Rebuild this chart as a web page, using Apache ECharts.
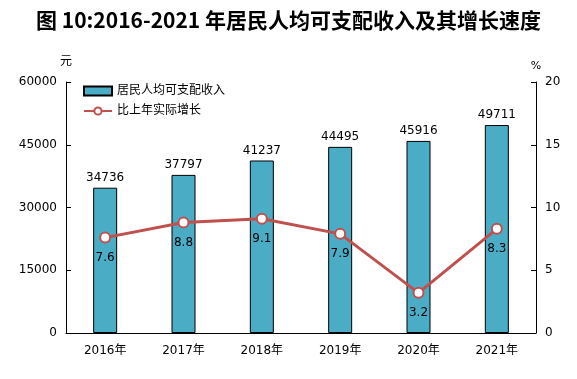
<!DOCTYPE html>
<html><head><meta charset="utf-8">
<script src="https://cdn.jsdelivr.net/npm/echarts@6/dist/echarts.min.js"></script>
<style>html,body{margin:0;padding:0;background:#fff}#c{width:577px;height:379px}</style>
</head><body><div id="c"></div>
<script>
const categories = ['2016年','2017年','2018年','2019年','2020年','2021年'];
const incomeValues = [34736, 37797, 41237, 44495, 45916, 49711];
const growthValues = [7.6, 8.8, 9.1, 7.9, 3.2, 8.3];
const leftTicks = [0, 15000, 30000, 45000, 60000];
const rightTicks = [0, 5, 10, 15, 20];

const font = 'Tahoma, "DejaVu Sans", "Noto Sans CJK SC", sans-serif';
const chart = echarts.init(document.getElementById('c'));
chart.setOption({
  animation: false,
  backgroundColor: '#fff',
  title: {
    text: '图 10:2016-2021 年居民人均可支配收入及其增长速度',
    left: 'center', top: 5,
    textStyle: {fontFamily: '"Noto Sans CJK SC", serif', fontSize: 21, fontWeight: 'bold', color: '#000'}
  },
  legend: {
    left: 78, top: 80, orient: 'vertical', itemGap: 8,
    itemWidth: 28, itemHeight: 9,
    textStyle: {fontFamily: font, fontSize: 12, color: '#000'},
    data: [
      {name: '居民人均可支配收入', icon: 'rect'},
      {name: '比上年实际增长'}
    ]
  },
  grid: {left: 66, right: 41, top: 82, bottom: 46},
  xAxis: {
    type: 'category', data: categories,
    axisLine: {lineStyle: {color: '#000', width: 1}},
    axisTick: {inside: true, length: 5, lineStyle: {color: '#000'}},
    axisLabel: {fontFamily: font, fontSize: 12, color: '#000', margin: 12}
  },
  yAxis: [
    {
      type: 'value', min: leftTicks[0], max: leftTicks[leftTicks.length-1], interval: 15000,
      name: '元', nameLocation: 'end', nameGap: 14,
      nameTextStyle: {fontFamily: font, fontSize: 12, color: '#000', align: 'center'},
      axisLine: {show: true, lineStyle: {color: '#000'}},
      axisTick: {show: true, inside: true, length: 5, lineStyle: {color: '#000'}},
      axisLabel: {fontFamily: font, fontSize: 12, color: '#000', margin: 9, formatter: v => String(v)},
      splitLine: {show: false}
    },
    {
      type: 'value', min: rightTicks[0], max: rightTicks[rightTicks.length-1], interval: 5,
      name: '%', nameLocation: 'end', nameGap: 10,
      nameTextStyle: {fontFamily: font, fontSize: 11, color: '#000', align: 'center'},
      axisLine: {show: true, lineStyle: {color: '#000'}},
      axisTick: {show: true, inside: true, length: 5, lineStyle: {color: '#000'}},
      axisLabel: {fontFamily: font, fontSize: 12, color: '#000', margin: 9},
      splitLine: {show: false}
    }
  ],
  series: [
    {
      name: '居民人均可支配收入', type: 'bar', data: incomeValues, barWidth: 24,
      itemStyle: {color: '#4BACC6', borderColor: '#000', borderWidth: 1},
      label: {show: true, position: 'top', distance: 4, fontFamily: font, fontSize: 12, color: '#000'}
    },
    {
      name: '比上年实际增长', type: 'line', yAxisIndex: 1, data: growthValues,
      symbol: 'circle', symbolSize: 10,
      lineStyle: {color: '#C0504D', width: 3},
      itemStyle: {color: '#fff', borderColor: '#C0504D', borderWidth: 2},
      label: {show: true, position: 'bottom', distance: 8, fontFamily: font, fontSize: 12, color: '#000'}
    }
  ]
});
</script></body></html>
